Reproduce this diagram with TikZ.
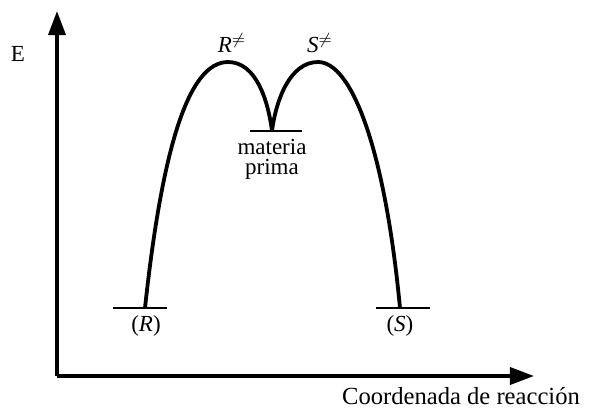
\documentclass[tikz,border=0pt]{standalone}
\usepackage{fontspec}
\setmainfont{Liberation Serif}
\usetikzlibrary{positioning, arrows.meta}

\begin{document}
\begin{tikzpicture}[x=0.5pt, y=-0.5pt,
      every node/.style={font=\fontsize{11.5}{10}\selectfont, align=center, inner sep=0pt},
      axis/.style={line width=1.8pt, -{Triangle[length=12pt, width=8.5pt]}},
      level/.style={line width=1.4pt},
      profile/.style={line width=1.9pt}]
    \useasboundingbox (0,0) rectangle (602,409);
    % axes
    \coordinate (origin) at (57,376);
    \coordinate (ytop) at (57,11);
    \coordinate (xend) at (534,376);
    \draw[axis] (origin) -- (ytop);
    \draw[axis] (origin) -- (xend);
    \node (elabel) at (18,54) {E};
    \node[font=\fontsize{12.3}{14}\selectfont] (xlabel) at (461,396) {Coordenada de reacción};
    % energy levels
    \coordinate (rleft) at (113,308);
    \coordinate (rmin) at (145,308);
    \coordinate (rright) at (167,308);
    \coordinate (mleft) at (250,131);
    \coordinate (mmin) at (272,131);
    \coordinate (mright) at (302,131);
    \coordinate (sleft) at (376,308);
    \coordinate (smin) at (400,308);
    \coordinate (sright) at (430,308);
    \draw[level] (rleft) -- (rright);
    \draw[level] (mleft) -- (mright);
    \draw[level] (sleft) -- (sright);
    % transition states
    \coordinate (rts) at (228,62);
    \coordinate (sts) at (318,62);
    \draw[profile] (rmin) .. controls (162,150) and (188,62) .. (rts)
      .. controls (256,62) and (268,100) .. (mmin);
    \draw[profile] (mmin) .. controls (276,100) and (290,62) .. (sts)
      .. controls (352,62) and (385,150) .. (smin);
    % labels
    \node (rtslabel) at (232,43) {\textit{R}$^{\neq}$};
    \node (stslabel) at (320,43) {\textit{S}$^{\neq}$};
    \node (rlabel) at (146,326) {(\textit{R})};
    \node (slabel) at (400,326) {(\textit{S})};
    \node[below=4pt of mmin] (mlabel) {materia\\prima};
  \end{tikzpicture}
\end{document}
